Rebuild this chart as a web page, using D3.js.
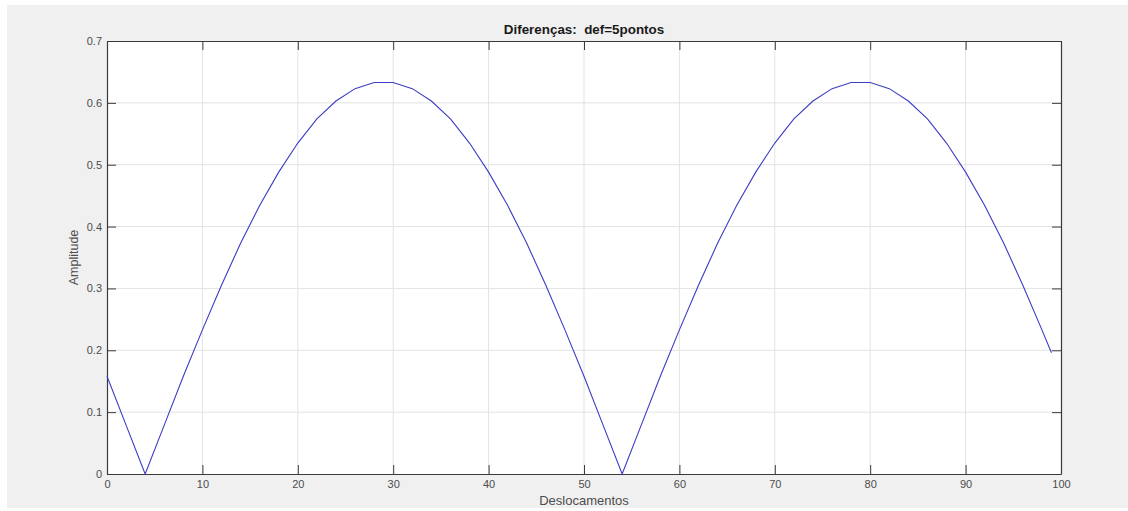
<!DOCTYPE html>
<html>
<head>
  <meta charset="utf-8">
  <title>Diferenças</title>
  <script src="https://d3js.org/d3.v7.min.js"></script>
  <style>
    body { margin: 0; background: #ffffff; }
    svg { display: block; font-family: "Liberation Sans", Arial, sans-serif; }
  </style>
</head>
<body>
<script>
// dados (deslocamento, amplitude)
var deslocamentos = [0, 2, 4, 6, 8, 10, 12, 14, 16, 18, 20, 22, 24, 26, 28, 30, 32, 34, 36, 38,
  40, 42, 44, 46, 48, 50, 52, 54, 56, 58, 60, 62, 64, 66, 68, 70, 72, 74, 76, 78,
  80, 82, 84, 86, 88, 90, 92, 94, 96, 98, 99];
var amplitudes = [0.158, 0.079, 0.000, 0.079, 0.158, 0.233, 0.305, 0.373, 0.434, 0.488,
  0.535, 0.574, 0.603, 0.623, 0.633, 0.633, 0.623, 0.603, 0.574, 0.535,
  0.488, 0.434, 0.373, 0.305, 0.233, 0.158, 0.079, 0.000, 0.079, 0.158,
  0.233, 0.305, 0.373, 0.434, 0.488, 0.535, 0.574, 0.603, 0.623, 0.633,
  0.633, 0.623, 0.603, 0.574, 0.535, 0.488, 0.434, 0.373, 0.305, 0.233, 0.196];
var xTicks = [0, 10, 20, 30, 40, 50, 60, 70, 80, 90, 100];
var yTicks = [0, 0.1, 0.2, 0.3, 0.4, 0.5, 0.6, 0.7];

var width = 1128, height = 511;
var margin = { top: 41, right: 67, bottom: 37, left: 107 };
var axisColor = "#3a3a3a";
var textColor = "#4d4d4d";

var dataset = deslocamentos.map(function(d, i) { return { x: d, y: amplitudes[i] }; });

var svg = d3.select("body").append("svg").attr("width", width).attr("height", height);

// fundo da figura
svg.append("rect").attr("x", 7).attr("y", 5).attr("width", width - 7).attr("height", 503).attr("fill", "#f0f0f0");

var xScale = d3.scaleLinear().domain([0, 100]).range([margin.left, width - margin.right]);
var yScale = d3.scaleLinear().domain([0, 0.7]).range([height - margin.bottom, margin.top]);

var x0 = xScale(0), x1 = xScale(100), y0 = yScale(0), y1 = yScale(0.7);

svg.append("rect").attr("x", x0).attr("y", y1).attr("width", x1 - x0).attr("height", y0 - y1).attr("fill", "#ffffff");

// grade
svg.append("g").selectAll("line").data(xTicks.slice(1, -1)).enter().append("line")
  .attr("x1", function(d) { return xScale(d); }).attr("x2", function(d) { return xScale(d); })
  .attr("y1", y1).attr("y2", y0)
  .attr("stroke", "#e3e3e3").attr("stroke-width", 1);
svg.append("g").selectAll("line").data(yTicks.slice(1, -1)).enter().append("line")
  .attr("y1", function(d) { return yScale(d); }).attr("y2", function(d) { return yScale(d); })
  .attr("x1", x0).attr("x2", x1)
  .attr("stroke", "#e3e3e3").attr("stroke-width", 1);

// eixos (ticks para dentro)
function styleAxis(g) {
  g.select(".domain").attr("stroke", axisColor).attr("stroke-width", 1.2);
  g.selectAll(".tick line").attr("stroke", axisColor);
  g.selectAll(".tick text").attr("fill", textColor).attr("font-size", "11px");
}

svg.append("g").attr("transform", "translate(0," + y0 + ")")
  .call(d3.axisBottom(xScale).tickValues(xTicks).tickSizeInner(-9).tickSizeOuter(0).tickPadding(6))
  .call(styleAxis);
svg.append("g").attr("transform", "translate(0," + y1 + ")")
  .call(d3.axisTop(xScale).tickValues(xTicks).tickSizeInner(-9).tickSizeOuter(0).tickFormat(""))
  .call(styleAxis);
svg.append("g").attr("transform", "translate(" + x0 + ",0)")
  .call(d3.axisLeft(yScale).tickValues(yTicks).tickSizeInner(-9).tickSizeOuter(0).tickPadding(5)
    .tickFormat(function(d) { return d === 0 ? "0" : d3.format(".1f")(d); }))
  .call(styleAxis);
svg.append("g").attr("transform", "translate(" + x1 + ",0)")
  .call(d3.axisRight(yScale).tickValues(yTicks).tickSizeInner(-9).tickSizeOuter(0).tickFormat(""))
  .call(styleAxis);

// linha
var line = d3.line()
  .x(function(d) { return xScale(d.x); })
  .y(function(d) { return yScale(d.y); });

svg.append("path")
  .datum(dataset)
  .attr("fill", "none")
  .attr("stroke", "#3c3cc4")
  .attr("stroke-width", 1.1)
  .attr("d", line);

// textos
svg.append("text")
  .attr("x", (x0 + x1) / 2).attr("y", 33.5)
  .attr("text-anchor", "middle")
  .attr("font-size", "13.4px").attr("font-weight", "bold").attr("fill", "#1a1a1a")
  .attr("xml:space", "preserve")
  .text("Diferenças:  def=5pontos");

svg.append("text")
  .attr("x", (x0 + x1) / 2).attr("y", 505)
  .attr("text-anchor", "middle")
  .attr("font-size", "13px").attr("fill", textColor)
  .text("Deslocamentos");

svg.append("text")
  .attr("transform", "translate(78," + ((y0 + y1) / 2) + ") rotate(-90)")
  .attr("text-anchor", "middle")
  .attr("font-size", "12.5px").attr("fill", textColor)
  .text("Amplitude");
</script>
</body>
</html>
